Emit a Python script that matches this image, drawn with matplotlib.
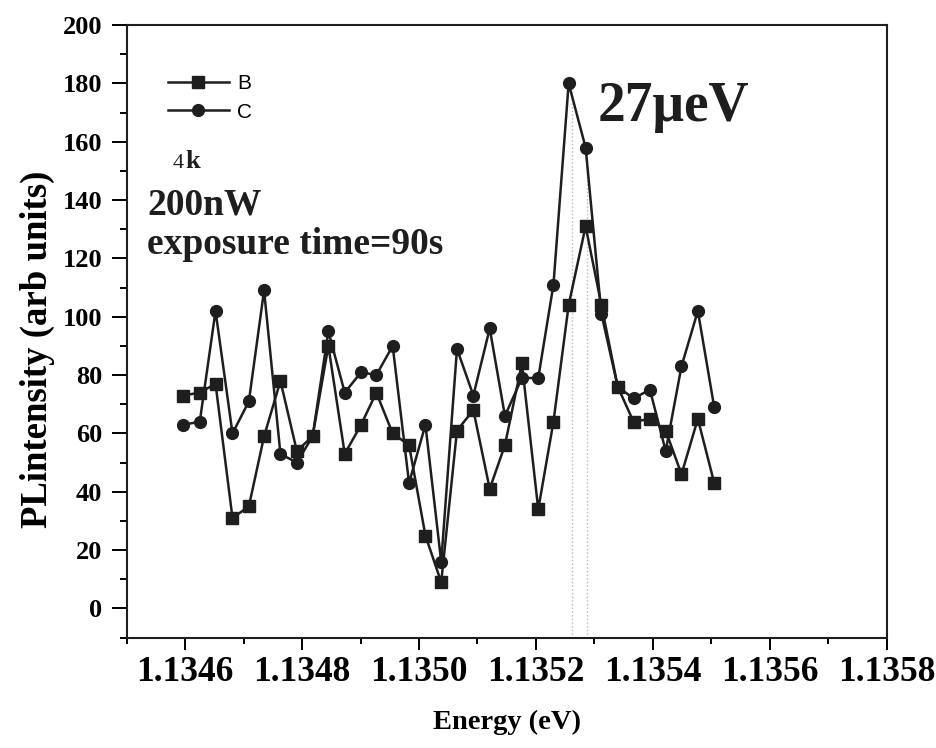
import numpy as np
import matplotlib.pyplot as plt
from matplotlib.ticker import MultipleLocator, FormatStrFormatter

# PL spectra of two dots, 4 K, 200 nW, 90 s exposure
energy = [1.134597, 1.134625, 1.134652, 1.134681, 1.134709, 1.134735,
          1.134763, 1.134791, 1.134818, 1.134845, 1.134873, 1.134901,
          1.134927, 1.134955, 1.134983, 1.135011, 1.135038, 1.135065,
          1.135093, 1.135121, 1.135147, 1.135176, 1.135204, 1.135230,
          1.135256, 1.135285, 1.135312, 1.135340, 1.135367, 1.135395,
          1.135422, 1.135449, 1.135477, 1.135505]
intensity_b = [73, 74, 77, 31, 35, 59, 78, 54, 59, 90, 53, 63,
               74, 60, 56, 25, 9, 61, 68, 41, 56, 84, 34, 64,
               104, 131, 104, 76, 64, 65, 61, 46, 65, 43]
intensity_c = [63, 64, 102, 60, 71, 109, 53, 50, 59, 95, 74, 81,
               80, 90, 43, 63, 16, 89, 73, 96, 66, 79, 79, 111,
               180, 158, 101, 76, 72, 75, 54, 83, 102, 69]
# width markers for the 27 ueV line
fwhm_edges = [1.135261, 1.135288]
fwhm_tops = [178, 156]

serif = 'Liberation Serif'
ink = '#1e1e1e'

fig = plt.figure(figsize=(9.37, 7.48), dpi=100)
ax = fig.add_axes([0.1352, 0.1475, 0.8111, 0.8191])

ax.vlines(fwhm_edges, -10, fwhm_tops, colors='#b8b8b8', linestyles=':', linewidth=1.0, zorder=1)

ax.plot(energy, intensity_b, '-s', color=ink, markersize=8.5, linewidth=1.8, label='B', zorder=3)
ax.plot(energy, intensity_c, '-o', color=ink, markersize=8.5, linewidth=1.8, label='C', zorder=3)

ax.set_xlim(1.1345, 1.1358)
ax.set_ylim(-10, 200)

ax.xaxis.set_major_locator(MultipleLocator(0.0002))
ax.xaxis.set_minor_locator(MultipleLocator(0.0001))
ax.xaxis.set_major_formatter(FormatStrFormatter('%.4f'))
ax.yaxis.set_major_locator(MultipleLocator(20))
ax.yaxis.set_minor_locator(MultipleLocator(10))

ax.tick_params(axis='x', which='major', direction='out', length=8.5, width=1.4, pad=5)
ax.tick_params(axis='x', which='minor', direction='out', length=4.5, width=1.4)
ax.tick_params(axis='y', which='major', direction='out', length=10.5, width=1.4, pad=7)
ax.tick_params(axis='y', which='minor', direction='out', length=5, width=1.4)
for lab in ax.get_xticklabels():
    lab.set_fontfamily(serif)
    lab.set_fontweight('bold')
    lab.set_fontsize(25.5)
for lab in ax.get_yticklabels():
    lab.set_fontfamily(serif)
    lab.set_fontweight('bold')
    lab.set_fontsize(19)
for sp in ax.spines.values():
    sp.set_linewidth(1.5)
    sp.set_color(ink)

ax.set_xlabel('Energy (eV)', fontsize=20.5, fontweight='bold', family=serif, labelpad=15)
ax.set_ylabel('PLintensity (arb units)', fontsize=26.5, fontweight='bold', family=serif)
ax.yaxis.set_label_coords(-0.094, 0.47)

leg = ax.legend(loc='upper left', bbox_to_anchor=(0.03, 0.95), frameon=False,
                handlelength=2.9, handletextpad=0.4, labelspacing=0.45,
                prop={'family': 'Liberation Sans', 'size': 15})

def axfrac(px, py):
    return (px - 126.7) / 760.0, (637.7 - py) / 612.7

ax.text(*axfrac(598, 121), '27\u03bceV', transform=ax.transAxes, family=serif,
        fontweight='bold', fontsize=40, va='baseline', color=ink)
ax.text(*axfrac(173, 168), '4', transform=ax.transAxes, family=serif,
        fontsize=16, va='baseline', color=ink)
ax.text(*axfrac(185, 168), 'k', transform=ax.transAxes, family=serif,
        fontweight='bold', fontsize=19, va='baseline', color=ink)
ax.text(*axfrac(147, 215), '200nW', transform=ax.transAxes, family=serif,
        fontweight='bold', fontsize=27, va='baseline', color=ink)
ax.text(*axfrac(147, 254), 'exposure time=90s', transform=ax.transAxes, family=serif,
        fontweight='bold', fontsize=27, va='baseline', color=ink)

fig.savefig('out.png', dpi=100)
